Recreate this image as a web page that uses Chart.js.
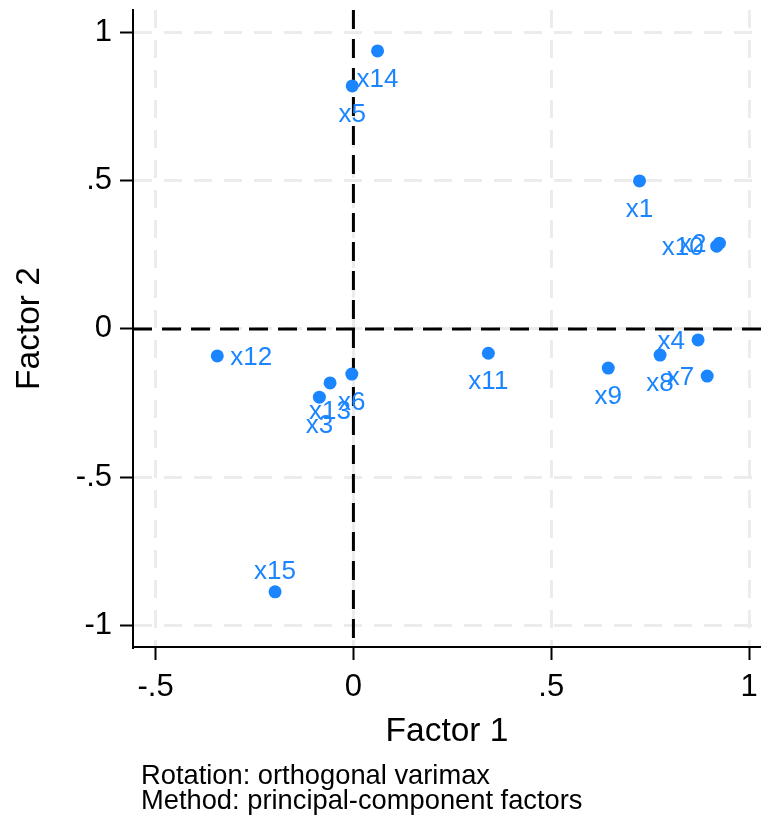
<!DOCTYPE html>
<html>
<head>
<meta charset="utf-8">
<script src="https://cdn.jsdelivr.net/npm/chart.js@4.4.1/dist/chart.umd.min.js"></script>
<style>
  html, body { margin: 0; padding: 0; background: #ffffff; }
  canvas { display: block; }
</style>
</head>
<body>
<canvas id="loadings" width="761" height="816"></canvas>
<script>
// Rotated factor loadings, one entry per variable
const variables = ['x1', 'x2', 'x3', 'x4', 'x5', 'x6', 'x7', 'x8', 'x9', 'x10', 'x11', 'x12', 'x13', 'x14', 'x15'];
const factor1 = [0.723, 0.925, -0.086, 0.871, -0.003, -0.004, 0.894, 0.775, 0.644, 0.918, 0.341, -0.344, -0.059, 0.061, -0.198];
const factor2 = [0.499, 0.289, -0.230, -0.037, 0.819, -0.152, -0.159, -0.088, -0.132, 0.279, -0.082, -0.091, -0.182, 0.937, -0.886];

const xTickValues = [-0.5, 0, 0.5, 1];
const xTickLabels = ['-.5', '0', '.5', '1'];
const yTickValues = [-1, -0.5, 0, 0.5, 1];
const yTickLabels = ['-1', '-.5', '0', '.5', '1'];
const noteLines = ['Rotation: orthogonal varimax', 'Method: principal-component factors'];

const FONT = '"Liberation Sans", Arial, Helvetica, sans-serif';
const BLUE = '#1a85ff';
const GRID = '#ececec';

// side of the marker each label is printed on (default: below)
const labelSide = { x2: 'left', x4: 'left', x7: 'left', x10: 'left', x12: 'right', x15: 'above' };

// dashed reference lines through the origin
const zeroLines = {
  id: 'zeroLines',
  beforeDatasetsDraw(chart) {
    const { ctx, chartArea: a, scales: { x, y } } = chart;
    const px = x.getPixelForValue(0);
    const py = y.getPixelForValue(0);
    ctx.save();
    ctx.strokeStyle = '#000000';
    ctx.lineWidth = 3;
    ctx.setLineDash([19, 10]);
    ctx.beginPath();
    ctx.moveTo(a.left, py);
    ctx.lineTo(a.right, py);
    ctx.stroke();
    ctx.beginPath();
    ctx.moveTo(px, a.top);
    ctx.lineTo(px, a.bottom);
    ctx.stroke();
    ctx.restore();
  }
};

// variable names next to their markers
const markerLabels = {
  id: 'markerLabels',
  afterDatasetsDraw(chart) {
    const ctx = chart.ctx;
    const meta = chart.getDatasetMeta(0);
    ctx.save();
    ctx.font = '26px ' + FONT;
    ctx.fillStyle = BLUE;
    ctx.textBaseline = 'alphabetic';
    meta.data.forEach((pt, i) => {
      const name = variables[i];
      const side = labelSide[name] || 'below';
      let tx = pt.x;
      let ty = pt.y;
      if (side === 'below') { ctx.textAlign = 'center'; ty += 36; }
      else if (side === 'above') { ctx.textAlign = 'center'; ty -= 13; }
      else if (side === 'left') { ctx.textAlign = 'right'; tx -= 13; ty += 9; }
      else { ctx.textAlign = 'left'; tx += 13; ty += 9; }
      ctx.fillText(name, tx, ty);
    });
    ctx.restore();
  }
};

// estimation notes under the plot
const notes = {
  id: 'notes',
  afterDraw(chart) {
    const ctx = chart.ctx;
    ctx.save();
    ctx.font = '27.3px ' + FONT;
    ctx.fillStyle = '#000000';
    ctx.textAlign = 'left';
    ctx.textBaseline = 'alphabetic';
    noteLines.forEach((line, i) => ctx.fillText(line, 141, 784 + i * 25));
    ctx.restore();
  }
};

function noPadding(scale) {
  scale.paddingTop = 0;
  scale.paddingBottom = 0;
  scale.paddingLeft = 0;
  scale.paddingRight = 0;
}

new Chart(document.getElementById('loadings'), {
  type: 'scatter',
  data: {
    datasets: [{
      data: variables.map((v, i) => ({ x: factor1[i], y: factor2[i] })),
      backgroundColor: BLUE,
      borderWidth: 0,
      pointRadius: 6.5,
      pointHoverRadius: 6.5,
      clip: false
    }]
  },
  options: {
    responsive: false,
    animation: false,
    events: [],
    layout: { autoPadding: false, padding: { top: 10, right: 0, bottom: 59, left: 0 } },
    plugins: { legend: { display: false }, tooltip: { enabled: false } },
    scales: {
      x: {
        type: 'linear',
        min: -0.557,
        max: 1.03,
        afterBuildTicks(s) { s.ticks = xTickValues.map(v => ({ value: v })); },
        afterFit(s) { s.height = 110; noPadding(s); },
        ticks: {
          callback: v => xTickLabels[xTickValues.indexOf(v)],
          color: '#000000',
          font: { family: FONT, size: 31 },
          padding: 9,
          maxRotation: 0,
          autoSkip: false
        },
        grid: { color: GRID, lineWidth: 3, tickColor: '#000000', tickWidth: 2, tickLength: 13 },
        border: { display: true, color: '#000000', width: 2, dash: [18, 12] },
        title: { display: true, text: 'Factor 1', color: '#000000', font: { family: FONT, size: 33.5 }, padding: { top: 0, bottom: 5 } }
      },
      y: {
        type: 'linear',
        min: -1.072,
        max: 1.075,
        afterBuildTicks(s) { s.ticks = yTickValues.map(v => ({ value: v })); },
        afterFit(s) { s.width = 133; noPadding(s); },
        ticks: {
          callback: v => yTickLabels[yTickValues.indexOf(v)],
          color: '#000000',
          font: { family: FONT, size: 31 },
          padding: 8,
          autoSkip: false
        },
        grid: { color: GRID, lineWidth: 3, tickColor: '#000000', tickWidth: 2, tickLength: 13 },
        border: { display: true, color: '#000000', width: 2, dash: [18, 12] },
        title: { display: true, text: 'Factor 2', color: '#000000', font: { family: FONT, size: 33.5 }, padding: { top: 10, bottom: 0 } }
      }
    }
  },
  plugins: [zeroLines, markerLabels, notes]
});
</script>
</body>
</html>
